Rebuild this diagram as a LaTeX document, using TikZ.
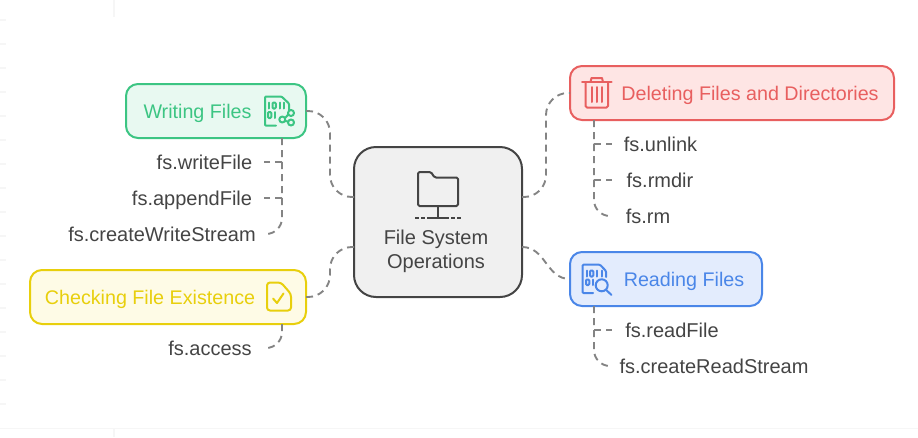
\documentclass[tikz,border=0pt]{standalone}
\usepackage{fontspec}
\setmainfont{Liberation Sans}
\definecolor{ink}{HTML}{444444}
\definecolor{wire}{HTML}{848484}
\definecolor{faint}{HTML}{F6F6F6}
\definecolor{gs}{HTML}{3CC583}\definecolor{gf}{HTML}{E8F9F1}
\definecolor{ys}{HTML}{E8CF0C}\definecolor{yf}{HTML}{FEFBE6}
\definecolor{rs}{HTML}{E85F5F}\definecolor{rf}{HTML}{FEE5E4}
\definecolor{bs}{HTML}{4A86E8}\definecolor{bf}{HTML}{E3ECFD}
\tikzset{
  x=1pt,y=-1pt,
  hub/.style={draw=ink,fill=gray!12,line width=2pt,rounded corners=22pt,minimum width=168pt,minimum height=150pt,inner sep=0,outer sep=0},
  topic/.style={line width=2pt,rounded corners=12pt,minimum height=54pt,inner sep=0,outer sep=0},
  leaf/.style={anchor=base,inner sep=0,outer sep=0,text=ink,font=\fontsize{20}{24}\selectfont},
  title/.style={anchor=base,inner sep=0,outer sep=0,font=\fontsize{19.7}{24}\selectfont},
  wirestyle/.style={draw=wire,line width=1.9pt,dash pattern=on 7pt off 5pt,rounded corners=#1},
  wirestyle/.default=0pt,
  icon/.style={line width=2pt,line join=round,line cap=round}
}
\begin{document}
\begin{tikzpicture}
\useasboundingbox (0,0) rectangle (918,437);
% faint background marks
\foreach \k in {20,44,...,404}{\draw[faint,line width=1.5pt] (0,\k) -- (6,\k);}
\draw[faint,line width=1.5pt] (0,428.5) -- (918,428.5);
\draw[faint,line width=1.5pt] (114,0) -- (114,17);
\draw[faint,line width=1.5pt] (114,428) -- (114,437);

% boxes
\node[hub] (c) at (438,222) {};
\node[topic,draw=gs,fill=gf,minimum width=180pt] (w) at (216,111) {};
\node[topic,draw=ys,fill=yf,minimum width=276pt] (k) at (168,297) {};
\node[topic,draw=rs,fill=rf,minimum width=324pt] (d) at (732,93) {};
\node[topic,draw=bs,fill=bf,minimum width=192pt] (r) at (666,279) {};

% titles
\node[title,text=gs] (wt) at (197.5,118) {Writing Files};
\node[title,text=ys] (kt) at (150,304) {Checking File Existence};
\node[title,text=rs] (dt) at (750,100) {Deleting Files and Directories};
\node[title,text=bs] (rt) at (684,286) {Reading Files};
\node[leaf] (c1) at (436,244) {File System};
\node[leaf] (c2) at (436,268) {Operations};

% leaves
\node[leaf] (wa) at (204.5,169) {fs.writeFile};
\node[leaf] (wb) at (192,205) {fs.appendFile};
\node[leaf] (wc) at (162,241) {fs.createWriteStream};
\node[leaf] (ka) at (210,355) {fs.access};
\node[leaf] (da) at (660.5,151) {fs.unlink};
\node[leaf] (db) at (660,187) {fs.rmdir};
\node[leaf] (dc) at (648,223) {fs.rm};
\node[leaf] (ra) at (672,337) {fs.readFile};
\node[leaf] (rb) at (714,373) {fs.createReadStream};

% connector ends
\coordinate (wae) at (264,162);
\coordinate (wbe) at (264,198);
\coordinate (wce) at (264,234);
\coordinate (kae) at (264,348);
\coordinate (dae) at (612,144);
\coordinate (dbe) at (612,180);
\coordinate (dce) at (612,216);
\coordinate (rae) at (612,330);
\coordinate (rbe) at (612,366);
\coordinate (lx) at (330,222);
\coordinate (rx) at (546,222);
\coordinate (cnw) at ([yshift=25pt]c.west);
\coordinate (csw) at ([yshift=-25pt]c.west);
\coordinate (cne) at ([yshift=25pt]c.east);
\coordinate (cse) at ([yshift=-25pt]c.east);

% hub connectors
\draw[wirestyle=22pt] (cnw) -- (cnw -| lx) -- (w.east -| lx) -- (w.east);
\draw[wirestyle=22pt] (csw) -- (csw -| lx) -- (k.east -| lx) -- (k.east);
\draw[wirestyle=22pt] (cne) -- (cne -| rx) -- (d.west -| rx) -- (d.west);
\draw[wirestyle] (cse) .. controls +(24,0) and ([xshift=-24pt]r.west) .. (r.west);

% leaf connectors
\draw[wirestyle] ([xshift=66pt]w.south) |- (wae);
\draw[wirestyle] ([xshift=66pt]w.south) |- (wbe);
\draw[wirestyle=16pt] ([xshift=66pt]w.south) |- (wce);
\draw[wirestyle=16pt] ([xshift=114pt]k.south) |- (kae);
\draw[wirestyle] ([xshift=-138pt]d.south) |- (dae);
\draw[wirestyle] ([xshift=-138pt]d.south) |- (dbe);
\draw[wirestyle=16pt] ([xshift=-138pt]d.south) |- (dce);
\draw[wirestyle] ([xshift=-72pt]r.south) |- (rae);
\draw[wirestyle=16pt] ([xshift=-72pt]r.south) |- (rbe);

% hub icon
\draw[ink,icon,rounded corners=1.5pt] (418,172) -- (431,172) -- (434.5,177.5) -- (458,177.5) -- (458,206) -- (418,206) -- cycle;
\draw[ink,line width=2pt] (438,206) -- (438,217.5);
\draw[ink,line width=2pt] (415,217.5) -- (419,217.5) (421,217.5) -- (425,217.5) (427,217.5) -- (449,217.5) (451,217.5) -- (455,217.5) (457,217.5) -- (461,217.5);

% writing icon
\begin{scope}[gs,icon]
\draw[rounded corners=1pt] (276,125.7) -- (265,125.7) -- (265,96.5) -- (281.5,96.5) -- (289,103.5) -- (289,110);
\draw (269,102.5) -- (269,108.5) (279.5,102.5) -- (279.5,108.5) (284,102.5) -- (284,108.5);
\draw[rounded corners=1pt] (272.5,102.5) rectangle (275.8,108.5);
\draw[rounded corners=1pt] (268,112) rectangle (271.3,118);
\draw (275,112) -- (275,118);
\draw (282.3,119.5) circle (3) (291,113) circle (3) (291,122.5) circle (3);
\draw (285,118) -- (288.3,114.5) (285,121) -- (288.3,121.5);
\end{scope}

% trash icon
\begin{scope}[rs,icon]
\draw (582,82.3) -- (611.5,82.3);
\draw (590.5,82) -- (591.5,78) -- (602,78) -- (603,82);
\draw[rounded corners=1.5pt] (585.5,82.3) -- (585.5,107.5) -- (608,107.5) -- (608,82.3);
\draw (592.3,87) -- (592.3,102) (597,87) -- (597,102) (601.7,87) -- (601.7,102);
\end{scope}

% reading icon
\begin{scope}[bs,icon]
\draw[rounded corners=1pt] (593,293) -- (582.5,293) -- (582.5,264.7) -- (600,264.7) -- (606,271) -- (606,277);
\draw (586.5,270.5) -- (586.5,276.5) (597,270.5) -- (597,276.5) (602,270.5) -- (602,276.5);
\draw[rounded corners=1pt] (590,270.5) rectangle (593.3,276.5);
\draw[rounded corners=1pt] (586,279.5) rectangle (589.3,285);
\draw (593,279.5) -- (593,285);
\draw (601.7,285.3) circle (6);
\draw (606,289.8) -- (611.5,295);
\end{scope}

% check icon
\begin{scope}[ys,icon]
\draw[rounded corners=3pt] (281,282.5) -- (267,282.5) -- (267,310.5) -- (291,310.5) -- (291,294) -- cycle;
\draw (273,298.5) -- (277,303) -- (283.5,293.5);
\end{scope}
\end{tikzpicture}
\end{document}
